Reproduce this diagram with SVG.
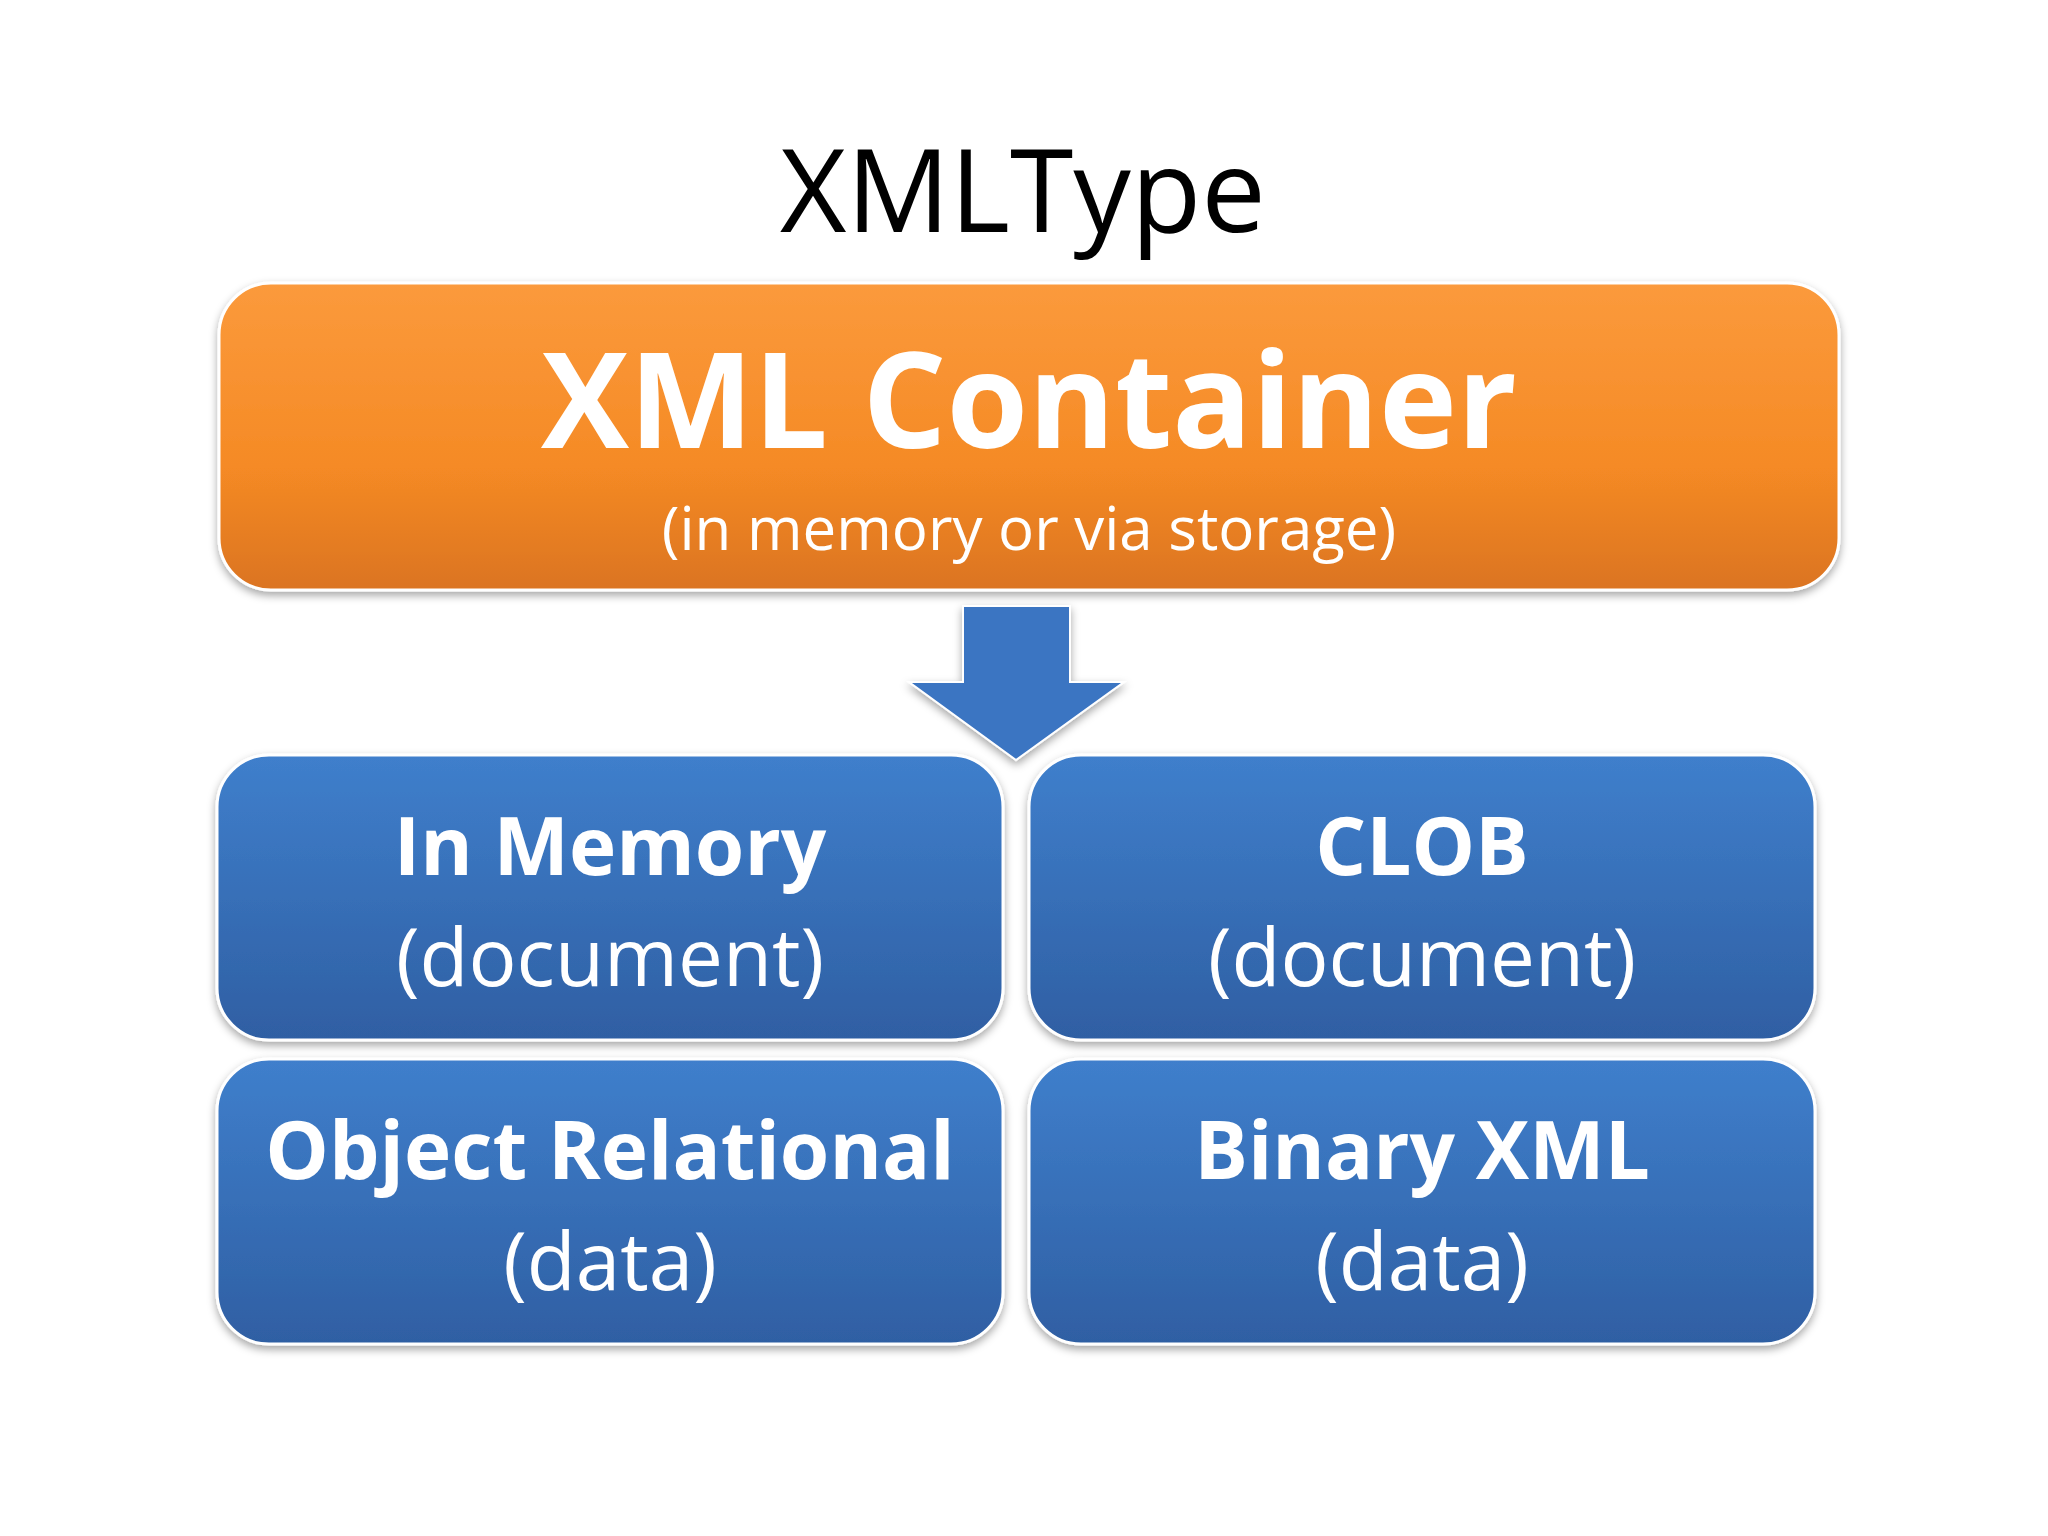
<svg xmlns="http://www.w3.org/2000/svg" width="2048" height="1536" viewBox="0 0 2048 1536">
<defs>
<linearGradient id="og" x1="0" y1="0" x2="0" y2="1"><stop offset="0" stop-color="#fb9a3c"/><stop offset="0.6" stop-color="#f58a25"/><stop offset="1" stop-color="#db7420"/></linearGradient>
<linearGradient id="bg" x1="0" y1="0" x2="0" y2="1"><stop offset="0" stop-color="#3f7fcc"/><stop offset="1" stop-color="#2f5fa3"/></linearGradient>
<filter id="sh" x="-5%" y="-5%" width="110%" height="115%"><feDropShadow dx="0" dy="4" stdDeviation="4" flood-color="#000" flood-opacity="0.35"/></filter>
</defs>
<style>
text{font-family:"Open Sans","Liberation Sans",sans-serif;text-anchor:middle;fill:#fff}
.b{font-weight:bold}
.box{fill:url(#bg);stroke:#fff;stroke-width:3;filter:url(#sh)}
</style>
<rect width="2048" height="1536" fill="#fff"/>
<text x="1023" y="232" font-size="115" style="fill:#000">XMLType</text>
<g id="container">
<rect x="219" y="283" width="1620" height="307" rx="52" fill="url(#og)" stroke="#fff" stroke-width="3" filter="url(#sh)"/>
<text class="b" x="1029" y="448" font-size="132">XML Container</text>
<text x="1029" y="550" font-size="60">(in memory or via storage)</text>
</g>
<g id="connectors">
<polygon points="963,606 1070,606 1070,682 1124,682 1016,760 909,682 963,682" fill="#3a74c2" stroke="#fff" stroke-width="2" filter="url(#sh)"/>
</g>
<g id="inmemory">
<rect class="box" x="217" y="755" width="786" height="285" rx="52"/>
<text class="b" x="610" y="875" font-size="80">In Memory</text>
<text x="610" y="986" font-size="80">(document)</text>
</g>
<g id="clob">
<rect class="box" x="1029" y="755" width="786" height="285" rx="52"/>
<text class="b" x="1422" y="875" font-size="80">CLOB</text>
<text x="1422" y="986" font-size="80">(document)</text>
</g>
<g id="objrel">
<rect class="box" x="217" y="1059" width="786" height="285" rx="52"/>
<text class="b" x="610" y="1179" font-size="80">Object Relational</text>
<text x="610" y="1290" font-size="80">(data)</text>
</g>
<g id="binxml">
<rect class="box" x="1029" y="1059" width="786" height="285" rx="52"/>
<text class="b" x="1422" y="1179" font-size="80">Binary XML</text>
<text x="1422" y="1290" font-size="80">(data)</text>
</g>
</svg>
